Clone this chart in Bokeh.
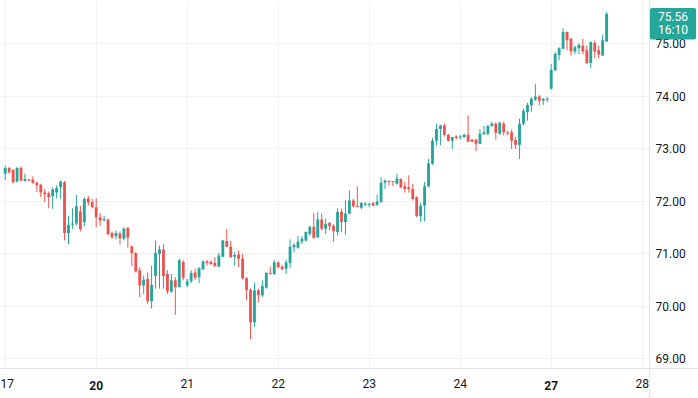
from bokeh.plotting import figure
from bokeh.models import (Range1d, FixedTicker, PrintfTickFormatter, ColumnDataSource,
                          Label, BoxAnnotation)
from bokeh.embed import file_html
from bokeh.resources import INLINE

# ---- data (hourly candles) ----
opens = [72.52, 72.63, 72.59, 72.37, 72.63, 72.38, 72.41, 72.41, 72.35, 72.31,
         72.16, 72.15, 72.09, 72.16, 72.26, 72.36, 71.39, 71.55, 71.57, 71.80,
         71.60, 72.05, 71.98, 71.88, 71.69, 71.64, 71.65, 71.39, 71.33, 71.38,
         71.28, 71.49, 71.14, 71.01, 70.68, 70.39, 70.52, 70.09, 70.57, 70.99,
         71.07, 70.61, 70.27, 70.49, 70.36, 70.84, 70.39, 70.47, 70.64, 70.55,
         70.70, 70.85, 70.84, 70.82, 70.75, 70.94, 71.24, 71.13, 70.94, 70.98,
         70.90, 70.53, 70.31, 69.69, 70.30, 70.20, 70.35, 70.63, 70.61, 70.83,
         70.75, 70.71, 70.82, 71.12, 71.11, 71.23, 71.25, 71.37, 71.51, 71.31,
         71.65, 71.47, 71.58, 71.53, 71.41, 71.79, 71.60, 71.76, 72.01, 71.90,
         71.87, 71.93, 71.93, 71.96, 71.93, 71.98, 72.35, 72.38, 72.38, 72.33,
         72.42, 72.28, 72.26, 72.23, 72.07, 71.71, 71.91, 72.28, 72.71, 73.15,
         73.37, 73.44, 73.26, 73.15, 73.23, 73.21, 73.22, 73.26, 73.17, 73.17,
         73.09, 73.27, 73.28, 73.43, 73.47, 73.28, 73.47, 73.30, 73.31, 73.16,
         73.07, 73.47, 73.69, 73.83, 73.93, 73.99, 73.91, 73.93, 74.14, 74.49,
         74.78, 74.90, 75.22, 75.09, 74.85, 74.91, 74.96, 74.87, 74.63, 75.01,
         74.87, 74.77, 75.04]
highs = [72.68, 72.65, 72.61, 72.65, 72.66, 72.52, 72.42, 72.47, 72.37, 72.33,
         72.23, 72.18, 72.26, 72.30, 72.39, 72.38, 71.72, 71.86, 72.12, 71.91,
         72.07, 72.10, 72.04, 72.05, 71.77, 71.72, 71.66, 71.42, 71.44, 71.42,
         71.50, 71.50, 71.15, 71.03, 70.74, 70.58, 70.64, 70.77, 71.25, 71.15,
         71.18, 70.68, 70.61, 70.55, 70.90, 70.87, 70.52, 70.68, 70.71, 70.74,
         70.87, 70.88, 70.87, 70.93, 71.01, 71.26, 71.47, 71.24, 71.03, 71.06,
         70.99, 70.55, 70.33, 70.45, 70.33, 70.49, 70.64, 70.75, 70.88, 70.85,
         70.78, 70.88, 71.27, 71.20, 71.34, 71.33, 71.42, 71.53, 71.77, 71.79,
         71.76, 71.67, 71.60, 71.56, 71.86, 71.85, 72.01, 72.20, 72.04, 72.28,
         71.98, 71.98, 71.96, 71.98, 72.12, 72.45, 72.41, 72.39, 72.38, 72.52,
         72.43, 72.36, 72.49, 72.33, 72.09, 71.97, 72.36, 72.80, 73.20, 73.47,
         73.45, 73.47, 73.28, 73.22, 73.25, 73.26, 73.28, 73.63, 73.18, 73.18,
         73.37, 73.43, 73.45, 73.51, 73.50, 73.51, 73.51, 73.34, 73.36, 73.22,
         73.57, 73.76, 73.87, 73.98, 74.23, 74.02, 73.96, 73.98, 74.61, 74.84,
         74.93, 75.29, 75.23, 75.10, 74.96, 75.01, 75.09, 74.96, 75.04, 75.06,
         74.96, 75.17, 75.60]
lows = [72.40, 72.52, 72.33, 72.35, 72.37, 72.37, 72.38, 72.32, 72.17, 72.07,
        71.98, 71.86, 71.85, 72.05, 72.04, 71.25, 71.18, 71.47, 71.53, 71.42,
        71.52, 71.91, 71.86, 71.50, 71.53, 71.61, 71.34, 71.28, 71.27, 71.17,
        71.25, 71.11, 70.76, 70.64, 70.17, 70.23, 70.05, 69.95, 70.33, 70.33,
        70.33, 70.23, 70.25, 69.83, 70.35, 70.49, 70.36, 70.44, 70.49, 70.44,
        70.68, 70.77, 70.78, 70.74, 70.74, 70.93, 71.12, 70.92, 70.77, 70.74,
        70.50, 70.11, 69.37, 69.60, 70.07, 70.17, 70.33, 70.60, 70.59, 70.72,
        70.68, 70.61, 70.73, 71.02, 71.09, 71.18, 71.23, 71.34, 71.28, 71.29,
        71.44, 71.37, 71.44, 71.22, 71.34, 71.41, 71.36, 71.74, 71.88, 71.88,
        71.84, 71.90, 71.88, 71.90, 71.90, 71.96, 72.23, 72.30, 72.28, 72.31,
        72.24, 72.16, 72.16, 72.01, 71.69, 71.60, 71.61, 72.26, 72.69, 73.06,
        73.06, 73.23, 73.13, 72.99, 73.17, 73.17, 73.20, 73.12, 73.12, 72.95,
        73.08, 73.26, 73.25, 73.41, 73.17, 73.26, 73.25, 73.25, 72.99, 72.99,
        72.80, 73.44, 73.53, 73.70, 73.91, 73.82, 73.83, 73.88, 74.12, 74.47,
        74.68, 74.89, 74.87, 74.77, 74.80, 74.80, 74.80, 74.61, 74.53, 74.72,
        74.72, 74.76, 75.03]
closes = [72.63, 72.55, 72.36, 72.63, 72.39, 72.42, 72.39, 72.35, 72.30, 72.16,
          72.13, 72.07, 72.22, 72.25, 72.37, 71.39, 71.55, 71.57, 71.90, 71.46,
          72.04, 71.97, 71.88, 71.69, 71.63, 71.65, 71.37, 71.31, 71.39, 71.29,
          71.47, 71.30, 71.01, 70.66, 70.39, 70.50, 70.09, 70.40, 71.01, 71.08,
          70.57, 70.28, 70.49, 70.36, 70.87, 70.54, 70.47, 70.63, 70.54, 70.72,
          70.85, 70.82, 70.80, 70.76, 70.96, 71.25, 71.13, 70.93, 70.97, 70.90,
          70.53, 70.30, 69.69, 70.30, 70.21, 70.38, 70.63, 70.61, 70.83, 70.74,
          70.70, 70.83, 71.13, 71.16, 71.23, 71.28, 71.41, 71.51, 71.30, 71.65,
          71.47, 71.56, 71.52, 71.43, 71.79, 71.60, 71.76, 72.01, 71.90, 71.89,
          71.96, 71.95, 71.95, 71.91, 71.99, 72.35, 72.39, 72.36, 72.36, 72.43,
          72.26, 72.23, 72.23, 72.04, 71.72, 71.91, 72.28, 72.72, 73.15, 73.37,
          73.44, 73.26, 73.15, 73.22, 73.20, 73.23, 73.26, 73.13, 73.13, 73.09,
          73.28, 73.31, 73.43, 73.47, 73.30, 73.49, 73.31, 73.29, 73.15, 73.07,
          73.47, 73.72, 73.83, 73.95, 73.99, 73.91, 73.95, 73.95, 74.50, 74.80,
          74.91, 75.22, 75.06, 74.85, 74.93, 74.97, 74.85, 74.63, 75.03, 74.85,
          74.79, 75.06, 75.56]

day_labels = ["17", "20", "21", "22", "23", "24", "27", "28"]
bold_day_labels = ["20", "27"]
bars_per_day = 23
price_ticks = [69, 70, 71, 72, 73, 74, 75]
last_price_text = "75.56"
countdown_text = "16:10"

# ---- styling ----
UP = "#26a69a"
DOWN = "#ef5350"
GRID = "#f0f1f3"
AXIS = "#e0e3eb"
TEXT = "#131722"
FONT = "Roboto"

n = len(opens)
xs = list(range(n))
colors = [UP if c >= o else DOWN for o, c in zip(opens, closes)]
tops, bottoms = [], []
for o, c in zip(opens, closes):
    t, b = max(o, c), min(o, c)
    if t - b < 0.02:
        m = (t + b) / 2
        t, b = m + 0.01, m - 0.01
    tops.append(t)
    bottoms.append(b)

src = ColumnDataSource(dict(x=xs, o=opens, h=highs, l=lows, c=closes,
                            top=tops, bottom=bottoms, color=colors))

day_ticks = [k * bars_per_day for k in range(len(day_labels))]

# layout: the plotting area is 649 x 368 px inside a 698 x 398 canvas;
# the frame covers the whole canvas and the axes sit at fixed locations.
W, H = 698, 398
PLOT_W, PLOT_H = 649, 368
px_per_bar = 91.0 / bars_per_day
x_start = -4.7 / px_per_bar
x_end = x_start + W / px_per_bar
x_axis_pos = x_start + PLOT_W / px_per_bar          # where the price scale sits
px_per_unit = 52.5
y_end = 75 + 43 / px_per_unit
y_start = y_end - H / px_per_unit
y_axis_pos = y_end - PLOT_H / px_per_unit           # where the time scale sits

p = figure(width=W, height=H, output_backend="svg", toolbar_location=None,
           x_range=Range1d(x_start, x_end), y_range=Range1d(y_start, y_end),
           y_axis_location="right", min_border_left=0, min_border_right=0,
           min_border_top=0, min_border_bottom=0)
p.outline_line_color = None
p.background_fill_color = "white"
p.border_fill_color = "white"

# white strips hiding grid lines under the two scales
p.add_layout(BoxAnnotation(left=x_axis_pos, fill_color="white", fill_alpha=1,
                           line_color=None, level="underlay"))
p.add_layout(BoxAnnotation(top=y_axis_pos, fill_color="white", fill_alpha=1,
                           line_color=None, level="underlay"))

p.segment(x0="x", y0="l", x1="x", y1="h", line_color="color", line_width=1, source=src)
p.vbar(x="x", width=0.72, top="top", bottom="bottom", fill_color="color",
       line_color=None, source=src)

overrides = {t: ("" if lab in bold_day_labels else lab) for t, lab in zip(day_ticks, day_labels)}
xa = p.xaxis[0]
xa.fixed_location = y_axis_pos
xa.ticker = FixedTicker(ticks=day_ticks)
xa.major_label_overrides = overrides
xa.axis_line_color = AXIS
xa.major_tick_line_color = None
xa.minor_tick_line_color = None
xa.major_tick_out = 0
xa.major_label_text_font = FONT
xa.major_label_text_font_size = "12px"
xa.major_label_text_color = TEXT
xa.major_label_standoff = 10

ya = p.yaxis[0]
ya.fixed_location = x_axis_pos
ya.ticker = FixedTicker(ticks=price_ticks)
ya.formatter = PrintfTickFormatter(format="%.2f")
ya.axis_line_color = AXIS
ya.major_tick_line_color = None
ya.minor_tick_line_color = None
ya.major_tick_out = 0
ya.major_label_text_font = FONT
ya.major_label_text_font_size = "12px"
ya.major_label_text_color = TEXT
ya.major_label_standoff = 6

p.xgrid.ticker = FixedTicker(ticks=day_ticks)
p.ygrid.ticker = FixedTicker(ticks=price_ticks)
p.xgrid.grid_line_color = GRID
p.ygrid.grid_line_color = GRID

for t, lab in zip(day_ticks, day_labels):
    if lab in bold_day_labels:
        p.add_layout(Label(x=t, y=y_axis_pos, y_offset=-17, text=lab, text_align="center",
                           text_baseline="middle", text_font=FONT, text_font_size="12px",
                           text_font_style="bold", text_color=TEXT))

p.add_layout(Label(x=x_axis_pos + 23.5 / px_per_bar, y=closes[-1], y_offset=6,
                   text=last_price_text + "\n" + countdown_text,
                   text_align="center", text_baseline="top", text_font=FONT,
                   text_font_size="12px", text_color="white",
                   background_fill_color=UP, padding=(8, 2), border_radius=2,
                   text_line_height=0.95))

html = file_html(p, INLINE)
html = html.replace("<head>", "<head><style>html,body{margin:0;padding:0;overflow:hidden}</style>", 1)
open("out.html", "w").write(html)
